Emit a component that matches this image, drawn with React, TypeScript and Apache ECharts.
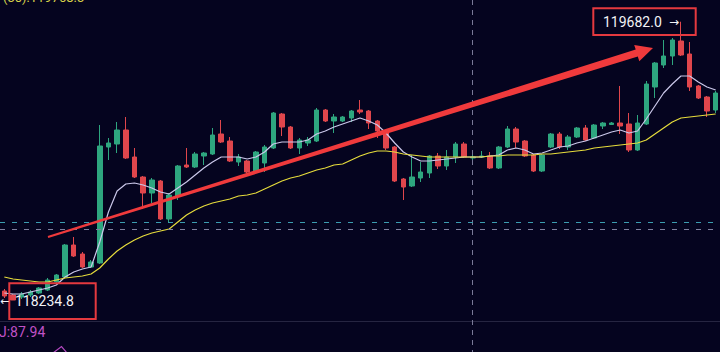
import React, { useEffect, useRef } from 'react';
import * as echarts from 'echarts';

const categories: string[] = Array.from({ length: 83 }, (_, i) => String(i + 1));

const opens = [118281.8, 118261, 118250.6, 118261, 118271.4, 118287, 118328.6, 118354.6, 118521, 118474.2, 118406.6, 118427.4, 119030.6, 119046.2, 119119, 118978.6, 118874.6, 118791.4, 118853.8, 118656.2, 118775.8, 118937, 118926.6, 118983.8, 118994.2, 119098.2, 119061.8, 118952.6, 118957.8, 118905.8, 118947.4, 119025.4, 119202.2, 119134.6, 119025.4, 119051.4, 119061.8, 119223, 119165.8, 119165.8, 119181.4, 119223, 119217.8, 119165.8, 119108.6, 119030.6, 118864.2, 118827.8, 118869.4, 118895.4, 118983.8, 118931.8, 118978.6, 119046.2, 118973.4, 118978.6, 118983.8, 118921.4, 119030.6, 119124.2, 119061.8, 118989, 118905.8, 119030.6, 119098.2, 119030.6, 119082.6, 119129.4, 119077.4, 119139.8, 119147.6, 119155.4, 119150.2, 119015, 119150.2, 119342.6, 119457, 119503.8, 119581.8, 119514.2, 119347.8, 119290.6, 119223];
const closes = [118255.8, 118235, 118266.2, 118276.6, 118297.4, 118339, 118365, 118521, 118463.8, 118406.6, 118432.6, 119035.8, 119051.4, 119119, 118973.4, 118874.6, 118791.4, 118859, 118656.2, 118781, 118931.8, 118926.6, 118994.2, 118999.4, 119093, 119056.6, 118957.8, 118978.6, 118900.6, 119004.6, 119030.6, 119207.4, 119134.6, 119025.4, 119067, 119067, 119223, 119165.8, 119186.6, 119186.6, 119217.8, 119212.6, 119155.4, 119113.8, 119025.4, 118853.8, 118822.6, 118874.6, 118900.6, 118983.8, 118931.8, 118978.6, 119046.2, 118978.6, 118978.6, 118983.8, 118921.4, 119030.6, 119124.2, 119056.6, 118983.8, 118905.8, 118989, 119098.2, 119030.6, 119082.6, 119129.4, 119067, 119145, 119155.4, 119155.4, 119139.8, 119015, 119155.4, 119358.2, 119467.4, 119503.8, 119587, 119509, 119342.6, 119285.4, 119217.8, 119311.4];
const highs = [118292.2, 118266.2, 118276.6, 118287, 118302.6, 118349.4, 118370.2, 118526.2, 118562.6, 118484.6, 118443, 119145, 119077.4, 119160.6, 119186.6, 119025.4, 118879.8, 118869.4, 118859, 118791.4, 118937, 119025.4, 119004.6, 119004.6, 119129.4, 119171, 119082.6, 118994.2, 118963, 119009.8, 119041, 119212.6, 119207.4, 119139.8, 119077.4, 119082.6, 119233.4, 119228.2, 119202.2, 119191.8, 119223, 119275, 119223, 119171, 119119, 119035.8, 118869.4, 118989, 118952.6, 118989, 118999.4, 119015, 119056.6, 119056.6, 118989, 119009.8, 119004.6, 119035.8, 119139.8, 119134.6, 119067, 118994.2, 118994.2, 119103.4, 119108.6, 119093, 119134.6, 119145, 119150.2, 119160.6, 119160.6, 119347.8, 119207.4, 119197, 119373.8, 119472.6, 119587, 119597.4, 119682.0, 119576.6, 119353, 119295.8, 119321.8];
const lows = [118245.4, 118234.8, 118240.2, 118250.6, 118266.2, 118281.8, 118323.4, 118349.4, 118458.6, 118401.4, 118401.4, 118422.2, 118963, 118999.4, 118968.2, 118869.4, 118708.2, 118739.4, 118651, 118640.6, 118755, 118921.4, 118921.4, 118937, 118989, 119051.4, 118952.6, 118931.8, 118895.4, 118900.6, 118900.6, 119020.2, 119087.8, 119020.2, 118994.2, 119035.8, 119056.6, 119160.6, 119103.4, 119160.6, 119160.6, 119202.2, 119124.2, 119077.4, 119015, 118848.6, 118755, 118822.6, 118848.6, 118869.4, 118916.2, 118911, 118947.4, 118973.4, 118963, 118973.4, 118916.2, 118916.2, 119025.4, 119025.4, 118978.6, 118900.6, 118900.6, 119025.4, 119020.2, 119015, 119077.4, 119061.8, 119072.2, 119124.2, 119145, 119098.2, 119004.6, 119009.8, 119145, 119285.4, 119441.4, 119457, 119503.8, 119321.8, 119280.2, 119186.6, 119207.4];

const maShort = [118271.4, 118266.2, 118266.2, 118276.6, 118287, 118297.4, 118313, 118354.6, 118380.6, 118396.2, 118406.6, 118536.6, 118692.6, 118801.8, 118838.2, 118843.4, 118833, 118817.4, 118796.6, 118786.2, 118817.4, 118848.6, 118885, 118921.4, 118952.6, 118978.6, 118978.6, 118978.6, 118968.2, 118978.6, 119004.6, 119046.2, 119056.6, 119056.6, 119056.6, 119067, 119098.2, 119113.8, 119134.6, 119150.2, 119165.8, 119181.4, 119165.8, 119145, 119103.4, 119051.4, 119004.6, 118978.6, 118957.8, 118957.8, 118963, 118968.2, 118973.4, 118978.6, 118978.6, 118978.6, 118983.8, 118989, 119015, 119025.4, 119015, 118994.2, 118999.4, 119015, 119030.6, 119035.8, 119051.4, 119061.8, 119077.4, 119093, 119108.6, 119119, 119103.4, 119113.8, 119176.2, 119243.8, 119311.4, 119358.2, 119399.8, 119399.8, 119368.6, 119342.6, 119327];
const maLong = [118354.6, 118344.2, 118339, 118333.8, 118328.6, 118328.6, 118339, 118349.4, 118354.6, 118359.8, 118370.2, 118401.4, 118448.2, 118489.8, 118521, 118547, 118567.8, 118583.4, 118593.8, 118604.2, 118640.6, 118677, 118703, 118723.8, 118739.4, 118749.8, 118760.2, 118775.8, 118781, 118791.4, 118812.2, 118833, 118853.8, 118869.4, 118879.8, 118895.4, 118911, 118921.4, 118937, 118942.2, 118963, 118983.8, 118999.4, 119009.8, 119009.8, 119004.6, 118994.2, 118989, 118983.8, 118978.6, 118978.6, 118978.6, 118978.6, 118978.6, 118978.6, 118978.6, 118983.8, 118983.8, 118989, 118989, 118989, 118989, 118994.2, 118994.2, 118999.4, 119004.6, 119009.8, 119015, 119025.4, 119030.6, 119035.8, 119041, 119046.2, 119051.4, 119067, 119098.2, 119129.4, 119160.6, 119181.4, 119186.6, 119191.8, 119197, 119202.2];

const priceLines = [118638, 118604.2];
const highLabel = '119682.0';
const lowLabel = '118234.8';
const indicatorLabel = 'J:87.94';
const topLabel = '(30):119768.3';

const GREEN = '#2ea67f';
const RED = '#e0464c';
const BG = '#05041f';

export default function App() {
  const ref = useRef<HTMLDivElement>(null);
  useEffect(() => {
    document.body.style.margin = '0';
    if (!ref.current) return;
    const chart = echarts.init(ref.current, null, { renderer: 'svg' });
    const kdata = opens.map((o, i) => [o, closes[i], lows[i], highs[i]]);
    const arrowPts = [
      [47.7, 236.1], [635.7, 49.6], [634.2, 45.0], [653, 48], [639.3, 61.2], [637.8, 56.5], [48.3, 237.9],
    ];
    chart.setOption({
      animation: false,
      backgroundColor: BG,
      textStyle: { fontFamily: 'Roboto' },
      grid: { left: -2.9, right: -1.7, top: 0, bottom: 31, containLabel: false },
      xAxis: {
        type: 'category',
        data: categories,
        boundaryGap: true,
        show: false,
      },
      yAxis: {
        type: 'value',
        min: 118125.8,
        max: 119795,
        show: false,
        splitLine: { show: false },
      },
      series: [
        {
          type: 'candlestick',
          data: kdata,
          barWidth: 5,
          itemStyle: {
            color: GREEN,
            color0: RED,
            borderColor: GREEN,
            borderColor0: RED,
            borderWidth: 1,
          },
          markLine: {
            silent: true,
            symbol: 'none',
            label: { show: false },
            lineStyle: { type: [5, 7], width: 1 },
            data: [
              { yAxis: priceLines[0], lineStyle: { color: '#3c9db0', type: [5, 7], width: 1 } },
              { yAxis: priceLines[1], lineStyle: { color: '#80809e', type: [5, 7], width: 1 } },
            ],
          },
          z: 2,
        },
        {
          type: 'line',
          data: maShort,
          symbol: 'none',
          lineStyle: { color: '#cbc8ea', width: 1.2 },
          z: 3,
        },
        {
          type: 'line',
          data: maLong,
          symbol: 'none',
          lineStyle: { color: '#e6dc3c', width: 1.2 },
          z: 3,
        },
      ],
      graphic: [
        {
          type: 'line',
          silent: true,
          shape: { x1: 0, y1: 321.5, x2: 720, y2: 321.5 },
          style: { stroke: '#262541', lineWidth: 1 },
          z: 1,
        },
        {
          type: 'line',
          silent: true,
          shape: { x1: 472.5, y1: 0, x2: 472.5, y2: 352 },
          style: { stroke: '#7a7a98', lineWidth: 1, lineDash: [5, 5] },
          z: 5,
        },
        {
          type: 'polygon',
          silent: true,
          shape: { points: arrowPts },
          style: { fill: '#f03a3c' },
          z: 10,
        },
        {
          type: 'rect',
          silent: true,
          shape: { x: 9.3, y: 283.3, width: 86.4, height: 35.7 },
          style: { fill: 'none', stroke: '#e5393f', lineWidth: 2 },
          z: 10,
        },
        {
          type: 'rect',
          silent: true,
          shape: { x: 593.3, y: 8.3, width: 102.4, height: 26.7 },
          style: { fill: 'none', stroke: '#e5393f', lineWidth: 2 },
          z: 10,
        },
        {
          type: 'text',
          silent: true,
          x: 15,
          y: 301,
          style: { text: lowLabel, fill: '#f2f2f6', font: '14px Roboto', verticalAlign: 'middle', align: 'left' },
          z: 11,
        },
        {
          type: 'text',
          silent: true,
          x: 0,
          y: 301,
          style: { text: '←', fill: '#f2f2f6', font: '11px "DejaVu Sans"', verticalAlign: 'middle', align: 'left' },
          z: 11,
        },
        {
          type: 'text',
          silent: true,
          x: 603,
          y: 21.5,
          style: { text: highLabel, fill: '#f2f2f6', font: '14px Roboto', verticalAlign: 'middle', align: 'left' },
          z: 11,
        },
        {
          type: 'text',
          silent: true,
          x: 669,
          y: 22,
          style: { text: '→', fill: '#f2f2f6', font: '12px "DejaVu Sans"', verticalAlign: 'middle', align: 'left' },
          z: 11,
        },
        {
          type: 'text',
          silent: true,
          x: -1,
          y: 331.5,
          style: { text: indicatorLabel, fill: '#c052c6', font: '14px Roboto', verticalAlign: 'middle', align: 'left' },
          z: 11,
        },
        {
          type: 'text',
          silent: true,
          x: 3,
          y: -3,
          style: { text: topLabel, fill: '#d8d24a', font: '13px Roboto', verticalAlign: 'middle', align: 'left' },
          z: 11,
        },
        {
          type: 'polyline',
          silent: true,
          shape: { points: [[53, 353], [61.5, 346.5], [67, 353]] },
          style: { stroke: '#b548c0', lineWidth: 1.2, fill: 'none' },
          z: 11,
        },
      ],
    });
    return () => chart.dispose();
  }, []);
  return <div ref={ref} style={{ position: 'fixed', left: 0, top: 0, width: 720, height: 352 }} />;
}
